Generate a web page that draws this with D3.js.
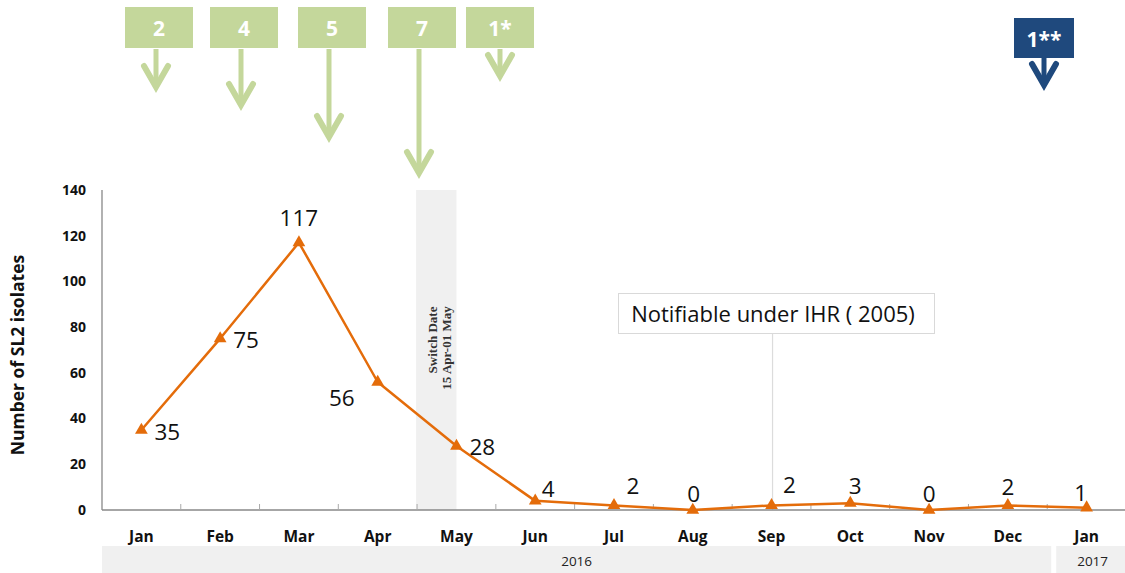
<!DOCTYPE html>
<html>
<head>
<meta charset="utf-8">
<script src="https://cdn.jsdelivr.net/npm/d3@7"></script>
<style>
  body { margin: 0; background: #fff; }
  svg { display: block; font-family: "Open Sans", "Noto Sans", sans-serif; }
</style>
</head>
<body>
<svg id="chart" width="1125" height="573"></svg>
<script>
// Data
const months = ["Jan", "Feb", "Mar", "Apr", "May", "Jun", "Jul", "Aug", "Sep", "Oct", "Nov", "Dec", "Jan"];
const years = ["2016", "2016", "2016", "2016", "2016", "2016", "2016", "2016", "2016", "2016", "2016", "2016", "2017"];
const isolates = [35, 75, 117, 56, 28, 4, 2, 0, 2, 3, 0, 2, 1];
const yTicks = [0, 20, 40, 60, 80, 100, 120, 140];

// annotations at top
const annoLabels = ["2", "4", "5", "7", "1*"];
const annoLen = [41, 59, 91, 127, 30];        // arrow length below box
const annoX = [159, 244, 332, 422, 500];      // box centres
const annoDark = { label: "1**", x: 1044, len: 30 };

// label offsets for each point [dx, dy, anchor]
const labelPos = [
  [13, 10, "start"], [13, 9, "start"], [0, -17, "middle"], [-23, 24, "end"], [13, 9, "start"],
  [13, -4, "middle"], [19, -11, "middle"], [1, -8, "middle"], [18, -12, "middle"],
  [5, -9, "middle"], [0, -8, "middle"], [0, -10, "middle"], [-6, -7, "middle"]
];

const svg = d3.select("#chart");
const orange = "#e46c0a";
const green = "#c4d79b";
const navy = "#1f497d";

const margin = { left: 102, right: 0, top: 190, bottom: 63 };
const W = 1125, H = 573;

const idx = d3.range(months.length);
const x = d3.scaleBand(idx, [margin.left, 1126]).padding(0);
const y = d3.scaleLinear([0, 140], [510, 190]);
const cx = i => x(i) + x.bandwidth() / 2;

// switch date shading (mid Apr -> May)
svg.append("rect")
  .attr("x", x(4) - 1).attr("y", y(140))
  .attr("width", x.bandwidth() / 2 + 1).attr("height", y(0) - y(140))
  .attr("fill", "#f0f0f0");

svg.append("text")
  .attr("transform", `translate(${x(4) + 20},${(y(140) + y(0)) / 2 - 6}) rotate(-90)`)
  .attr("text-anchor", "middle")
  .attr("font-family", "'Liberation Serif', 'DejaVu Serif', serif")
  .attr("font-weight", "bold").attr("font-size", 13).attr("fill", "#333")
  .call(t => t.append("tspan").attr("x", 4).attr("dy", 0).text("Switch Date"))
  .call(t => t.append("tspan").attr("x", -4).attr("dy", 14).text("15 Apr-01 May"));

// IHR annotation line + box
const ihrX = cx(8) + 1;
svg.append("line")
  .attr("x1", ihrX).attr("x2", ihrX).attr("y1", 333).attr("y2", y(0))
  .attr("stroke", "#dcdcdc").attr("stroke-width", 1.2);
svg.append("rect")
  .attr("x", 618.5).attr("y", 293.5).attr("width", 316).attr("height", 40)
  .attr("fill", "#fff").attr("stroke", "#d9d9d9");
svg.append("text")
  .attr("x", 773).attr("y", 322).attr("text-anchor", "middle")
  .attr("font-size", 22).attr("fill", "#111")
  .text("Notifiable under IHR ( 2005)");

// axes
const xAxis = svg.append("g")
  .attr("transform", `translate(0,${y(0)})`);
xAxis.append("line")
  .attr("x1", margin.left).attr("x2", W).attr("stroke", "#888").attr("stroke-width", 1.3);
xAxis.selectAll(".tk")
  .data(idx.slice(1))
  .join("line")
  .attr("x1", i => x(i)).attr("x2", i => x(i))
  .attr("y1", 0).attr("y2", -6)
  .attr("stroke", "#aaa");

svg.append("line")
  .attr("x1", margin.left).attr("x2", margin.left)
  .attr("y1", y(140)).attr("y2", y(0))
  .attr("stroke", "#888").attr("stroke-width", 1.3);

svg.append("g")
  .selectAll("text")
  .data(yTicks)
  .join("text")
  .attr("x", 86).attr("y", d => y(d)).attr("dy", "0.35em")
  .attr("text-anchor", "end")
  .attr("font-weight", "bold").attr("font-size", 14).attr("fill", "#111")
  .text(d => d);

svg.append("text")
  .attr("transform", `translate(24,${(y(0) + y(140)) / 2 + 5}) rotate(-90)`)
  .attr("text-anchor", "middle")
  .attr("font-weight", "bold").attr("font-size", 17.5).attr("fill", "#111")
  .text("Number of SL2 isolates");

// month labels
svg.append("g")
  .selectAll("text")
  .data(idx)
  .join("text")
  .attr("x", cx).attr("y", 542)
  .attr("text-anchor", "middle")
  .attr("font-weight", "bold").attr("font-size", 15.5).attr("fill", "#111")
  .text(i => months[i]);

// year bands
const yearGroups = d3.groups(idx, i => years[i]);
yearGroups.forEach(([yr, is], k) => {
  const x0 = x(is[0]) + (k > 0 ? 9 : 0);
  const x1 = Math.min(x(is[is.length - 1]) + x.bandwidth() + (k < yearGroups.length - 1 ? 4 : 0), W);
  svg.append("rect")
    .attr("x", x0).attr("y", 546).attr("width", x1 - x0).attr("height", 27)
    .attr("fill", "#f0f0f0");
  svg.append("text")
    .attr("x", (x0 + x1) / 2 + (k > 0 ? 2 : 0)).attr("y", 566)
    .attr("text-anchor", "middle").attr("font-size", 13.5).attr("fill", "#222")
    .text(yr);
});

// line
svg.append("path")
  .datum(idx)
  .attr("fill", "none").attr("stroke", orange).attr("stroke-width", 2.5)
  .attr("stroke-linejoin", "round")
  .attr("d", d3.line().x(cx).y(i => y(isolates[i])));

svg.append("g")
  .selectAll("path")
  .data(idx)
  .join("path")
  .attr("transform", i => `translate(${cx(i)},${y(isolates[i])})`)
  .attr("d", d3.symbol(d3.symbolTriangle, 70))
  .attr("fill", orange);

svg.append("g")
  .selectAll("text")
  .data(idx)
  .join("text")
  .attr("x", i => cx(i) + labelPos[i][0])
  .attr("y", i => y(isolates[i]) + labelPos[i][1])
  .attr("text-anchor", i => labelPos[i][2])
  .attr("font-size", 22.5).attr("fill", "#111")
  .text(i => isolates[i]);

// top arrows
function arrow(g, xc, y0, len, color) {
  g.append("line")
    .attr("x1", xc).attr("x2", xc).attr("y1", y0).attr("y2", y0 + len - 2)
    .attr("stroke", color).attr("stroke-width", 5);
  g.append("path")
    .attr("d", `M${xc - 12},${y0 + len - 24} L${xc},${y0 + len - 3} L${xc + 12},${y0 + len - 24}`)
    .attr("fill", "none").attr("stroke", color).attr("stroke-width", 6)
    .attr("stroke-linecap", "round").attr("stroke-linejoin", "miter");
}

const annoG = svg.append("g");
annoLabels.forEach((lab, k) => {
  const bx = annoX[k];
  annoG.append("rect")
    .attr("x", bx - 34).attr("y", 7).attr("width", 68).attr("height", 41)
    .attr("fill", green);
  annoG.append("text")
    .attr("x", bx).attr("y", 36).attr("text-anchor", "middle")
    .attr("font-weight", "bold").attr("font-size", 21).attr("fill", "#fff")
    .text(lab);
  arrow(annoG, bx - 3 * (k < 4 ? 1 : 0), 49, annoLen[k], green);
});

annoG.append("rect")
  .attr("x", annoDark.x - 30).attr("y", 18).attr("width", 60).attr("height", 40)
  .attr("fill", navy);
annoG.append("text")
  .attr("x", annoDark.x).attr("y", 47).attr("text-anchor", "middle")
  .attr("font-weight", "bold").attr("font-size", 21).attr("fill", "#fff")
  .text(annoDark.label);
arrow(annoG, annoDark.x, 58, annoDark.len, navy);
</script>
</body>
</html>
